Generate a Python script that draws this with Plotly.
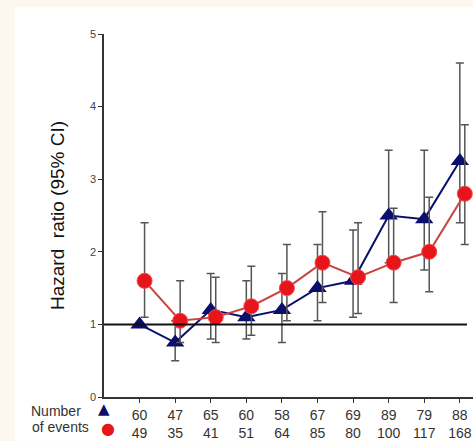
import plotly.graph_objects as go

# Number of events per group (tick labels: triangle row / circle row)
events_tri = [60, 47, 65, 60, 58, 67, 69, 89, 79, 88]
events_circ = [49, 35, 41, 51, 64, 85, 80, 100, 117, 168]

groups = list(range(1, 11))

# Hazard ratios with 95% confidence limits
hr_tri = [1.0, 0.75, 1.2, 1.1, 1.2, 1.5, 1.6, 2.5, 2.45, 3.25]
lo_tri = [1.0, 0.5, 0.8, 0.8, 0.75, 1.05, 1.1, 1.85, 1.75, 2.4]
hi_tri = [1.0, 1.05, 1.7, 1.6, 1.7, 2.1, 2.3, 3.4, 3.4, 4.6]

hr_circ = [1.6, 1.05, 1.1, 1.25, 1.5, 1.85, 1.65, 1.85, 2.0, 2.8]
lo_circ = [1.1, 0.75, 0.75, 0.85, 1.05, 1.3, 1.15, 1.3, 1.45, 2.1]
hi_circ = [2.4, 1.6, 1.65, 1.8, 2.1, 2.55, 2.4, 2.6, 2.75, 3.75]

NAVY = "#0b0f6b"
RED = "#e8141c"
FONT = "Liberation Sans, Arial, sans-serif"

x_tri = groups
x_circ = [g + 0.14 for g in groups]

fig = go.Figure()

fig.add_trace(go.Scatter(
    x=x_tri, y=hr_tri, mode="lines+markers",
    line=dict(color=NAVY, width=2),
    marker=dict(symbol="triangle-up", size=16, color=NAVY),
    error_y=dict(type="data", symmetric=False,
                 array=[h - m for h, m in zip(hi_tri, hr_tri)],
                 arrayminus=[m - l for m, l in zip(hr_tri, lo_tri)],
                 color="#555555", thickness=1.5, width=4),
    cliponaxis=False, showlegend=False,
))

fig.add_trace(go.Scatter(
    x=x_circ, y=hr_circ, mode="lines+markers",
    line=dict(color="#c9433f", width=2),
    marker=dict(symbol="circle", size=15, color=RED,
                line=dict(color="#f04a4a", width=1)),
    error_y=dict(type="data", symmetric=False,
                 array=[h - m for h, m in zip(hi_circ, hr_circ)],
                 arrayminus=[m - l for m, l in zip(hr_circ, lo_circ)],
                 color="#555555", thickness=1.5, width=4),
    cliponaxis=False, showlegend=False,
))

shapes = [
    # white panel on the cream page
    dict(type="rect", xref="paper", yref="paper", x0=-0.241, x1=1.05,
         y0=-0.12, y1=1.0736, fillcolor="white", line=dict(width=0),
         layer="below"),
    # reference line at HR = 1
    dict(type="line", xref="x", yref="y", x0=0, x1=10.2, y0=1, y1=1,
         line=dict(color="#111111", width=2)),
]

annotations = [
    dict(xref="paper", yref="paper", x=-0.058, y=-0.038, text="Number",
         showarrow=False, xanchor="right", yanchor="middle",
         font=dict(family=FONT, size=14, color="#333333")),
    dict(xref="paper", yref="paper", x=-0.036, y=-0.084, text="of events",
         showarrow=False, xanchor="right", yanchor="middle",
         font=dict(family=FONT, size=14, color="#333333")),
    # row keys: triangle row and circle row
    dict(xref="paper", yref="paper", x=0.0, y=-0.032, text="▲",
         showarrow=False, xanchor="center", yanchor="middle",
         font=dict(family="DejaVu Sans", size=15, color=NAVY)),
    dict(xref="paper", yref="paper", x=0.012, y=-0.088, text="●",
         showarrow=False, xanchor="center", yanchor="middle",
         font=dict(family="DejaVu Sans", size=16, color=RED)),
]

fig.update_layout(
    width=473, height=441,
    margin=dict(l=104, r=0, t=34, b=40, pad=0),
    paper_bgcolor="#fdf8ef",
    plot_bgcolor="white",
    shapes=shapes,
    annotations=annotations,
    font=dict(family=FONT, color="#333333"),
    xaxis=dict(
        range=[0, 10.37], showgrid=False, zeroline=False,
        showline=True, linecolor="#333333", linewidth=1.5,
        tickmode="array", tickvals=groups,
        ticktext=[f"{a}<br>{b}" for a, b in zip(events_tri, events_circ)],
        ticks="outside", ticklen=4, tickcolor="#333333",
        tickfont=dict(family=FONT, size=14, color="#333333"),
    ),
    yaxis=dict(
        range=[0, 5], showgrid=False, zeroline=False,
        showline=True, linecolor="#333333", linewidth=1.5,
        tickvals=[0, 1, 2, 3, 4, 5], ticks="outside", ticklen=4,
        tickcolor="#333333",
        tickfont=dict(family=FONT, size=11, color="#444444"),
        title=dict(text="Hazard  ratio (95% CI)", standoff=20,
                   font=dict(family=FONT, size=19, color="#111111")),
    ),
)

fig.write_html("out.html")
